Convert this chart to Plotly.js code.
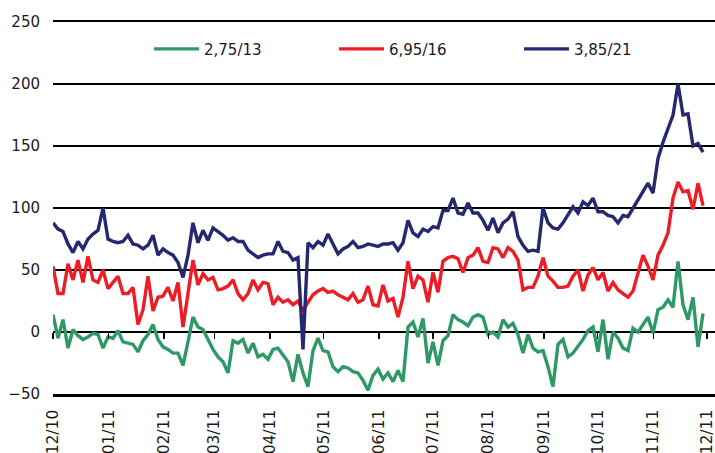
<!DOCTYPE html>
<html><head><meta charset="utf-8">
<script src="https://cdn.plot.ly/plotly-3.0.1.min.js"></script>
<style>html,body{margin:0;padding:0;background:#fff}#chart{width:715px;height:453px}</style>
</head><body><div id="chart"></div>
<script>
// Series names and colours
const seriesNames = ["2,75/13", "6,95/16", "3,85/21"];
const seriesColors = ["#2e9966", "#ee1c24", "#25286e"];

// Sampling: first observation and spacing (days) between read-off samples
const startDate = "2010-12-01";
const sampleStepDays = 2.7905;

// Values (spread, bp)
const bond2_75_13 = [
  14,-5,10,-13,2,-3,-6,-4,-1,-2,-13,-4,-5,1,-8,-9,-10,-16,-7,-2,6,-6,
  -12,-14,-17,-17,-27,-8,12,4,2,-6,-14,-20,-24,-33,-7,-9,-6,-17,-9,-20,-18,-22,
  -14,-13,-18,-24,-40,-18,-33,-44,-15,-5,-15,-16,-28,-32,-28,-29,-32,-33,-39,-47,-35,
  -30,-38,-33,-40,-31,-40,4,8,-4,11,-25,-8,-27,-7,-3,14,10,8,5,12,14,
  12,-2,0,-4,10,4,7,-2,-17,-2,-13,-16,-15,-28,-44,-10,-6,-20,-17,-12,-6,1,4,
  -16,10,-22,0,-5,-13,-15,3,0,6,12,-1,18,20,26,20,57,22,10,28,-12,15
];
const bond6_95_16 = [
  53,31,31,55,42,58,40,61,42,40,50,35,40,45,31,31,36,6,18,45,17,28,
  29,36,25,40,4,30,58,38,47,42,44,34,35,37,42,31,26,31,42,34,40,39,
  22,28,24,26,22,25,17,24,30,33,35,32,33,30,28,26,31,24,26,37,22,
  21,38,25,27,12,28,57,35,45,42,24,48,32,57,60,61,59,48,60,62,68,
  57,56,68,67,60,68,65,58,34,36,36,45,60,45,41,36,36,37,45,50,33,46,52,
  42,48,33,40,34,31,28,33,48,62,53,42,62,70,80,108,121,113,114,99,120,102
];
const bond3_85_21 = [
  88,83,81,71,64,73,67,75,79,82,100,75,73,72,73,78,71,70,67,70,78,62,
  67,64,62,56,44,62,88,72,82,74,84,81,78,74,76,73,73,66,63,60,62,63,
  63,73,65,64,58,60,-14,72,68,73,70,79,71,63,67,69,73,68,69,71,70,
  69,71,71,72,66,72,90,80,77,83,81,85,84,98,98,108,96,95,104,96,96,
  90,82,92,80,88,91,97,77,70,65,66,65,100,88,84,83,88,95,101,96,105,102,108,
  97,97,94,93,88,94,93,100,106,114,120,112,140,153,165,175,200,175,176,150,152,145
];

// Axis settings
const yRange = [-50, 250];
const yStep = 50;
const xRange = ["2010-12-01", "2011-12-05 11:00"];
const xTickFormat = "%m/%y";

function sampleDates(n) {
  const t0 = Date.parse(startDate + "T00:00:00Z");
  const out = [];
  for (let i = 0; i < n; i++) {
    const d = new Date(t0 + i * sampleStepDays * 86400000);
    out.push(d.toISOString().slice(0, 19).replace("T", " "));
  }
  return out;
}

const allSeries = [bond2_75_13, bond6_95_16, bond3_85_21];
const traces = allSeries.map((vals, k) => ({
  type: "scatter", mode: "lines",
  x: sampleDates(vals.length), y: vals,
  name: seriesNames[k],
  line: {color: seriesColors[k], width: 3.4},
  hoverinfo: "skip"
}));
// empty trace that carries the tick marks on the zero line
traces.push({type: "scatter", mode: "lines", x: [], y: [], xaxis: "x2", yaxis: "y", showlegend: false, hoverinfo: "skip"});

const font = {family: "DejaVu Sans, Verdana, sans-serif", size: 15, color: "#1a1a1a"};
const xFont = {family: "DejaVu Sans, Verdana, sans-serif", size: 15.5, color: "#1a1a1a"};

const layout = {
  width: 715, height: 453,
  margin: {l: 53, r: 0, t: 22, b: 59},
  paper_bgcolor: "#fff", plot_bgcolor: "#fff",
  font: font,
  showlegend: true,
  legend: {
    orientation: "h", x: 0.145, y: 0.927, xanchor: "left", yanchor: "middle",
    bgcolor: "rgba(0,0,0,0)", font: font,
    entrywidth: 125, entrywidthmode: "pixels", itemwidth: 45, tracegroupgap: 0
  },
  xaxis: {
    type: "date", range: xRange, dtick: "M1", tick0: "2010-12-01",
    tickformat: xTickFormat, tickangle: -90, ticks: "",
    showgrid: false, zeroline: false,
    showline: true, linecolor: "#000", linewidth: 2.5, mirror: true,
    ticklabelstandoff: 7, ticklabeloverflow: "allow", tickfont: xFont
  },
  xaxis2: {
    type: "date", range: xRange, dtick: "M1", tick0: "2010-12-01",
    overlaying: "x", anchor: "free", position: (0 - yRange[0]) / (yRange[1] - yRange[0]),
    side: "bottom", ticks: "outside", ticklen: 6, tickwidth: 1.5, tickcolor: "#000",
    showticklabels: false, showgrid: false, zeroline: false, showline: false
  },
  yaxis: {
    range: yRange, dtick: yStep, tick0: 0,
    showgrid: true, gridcolor: "#000", gridwidth: 1.5,
    zeroline: true, zerolinecolor: "#000", zerolinewidth: 1.5,
    showline: false, ticks: "", ticklabelstandoff: 12, tickfont: font
  }
};

Plotly.newPlot("chart", traces, layout, {displayModeBar: false, staticPlot: true});
</script>
</body></html>
